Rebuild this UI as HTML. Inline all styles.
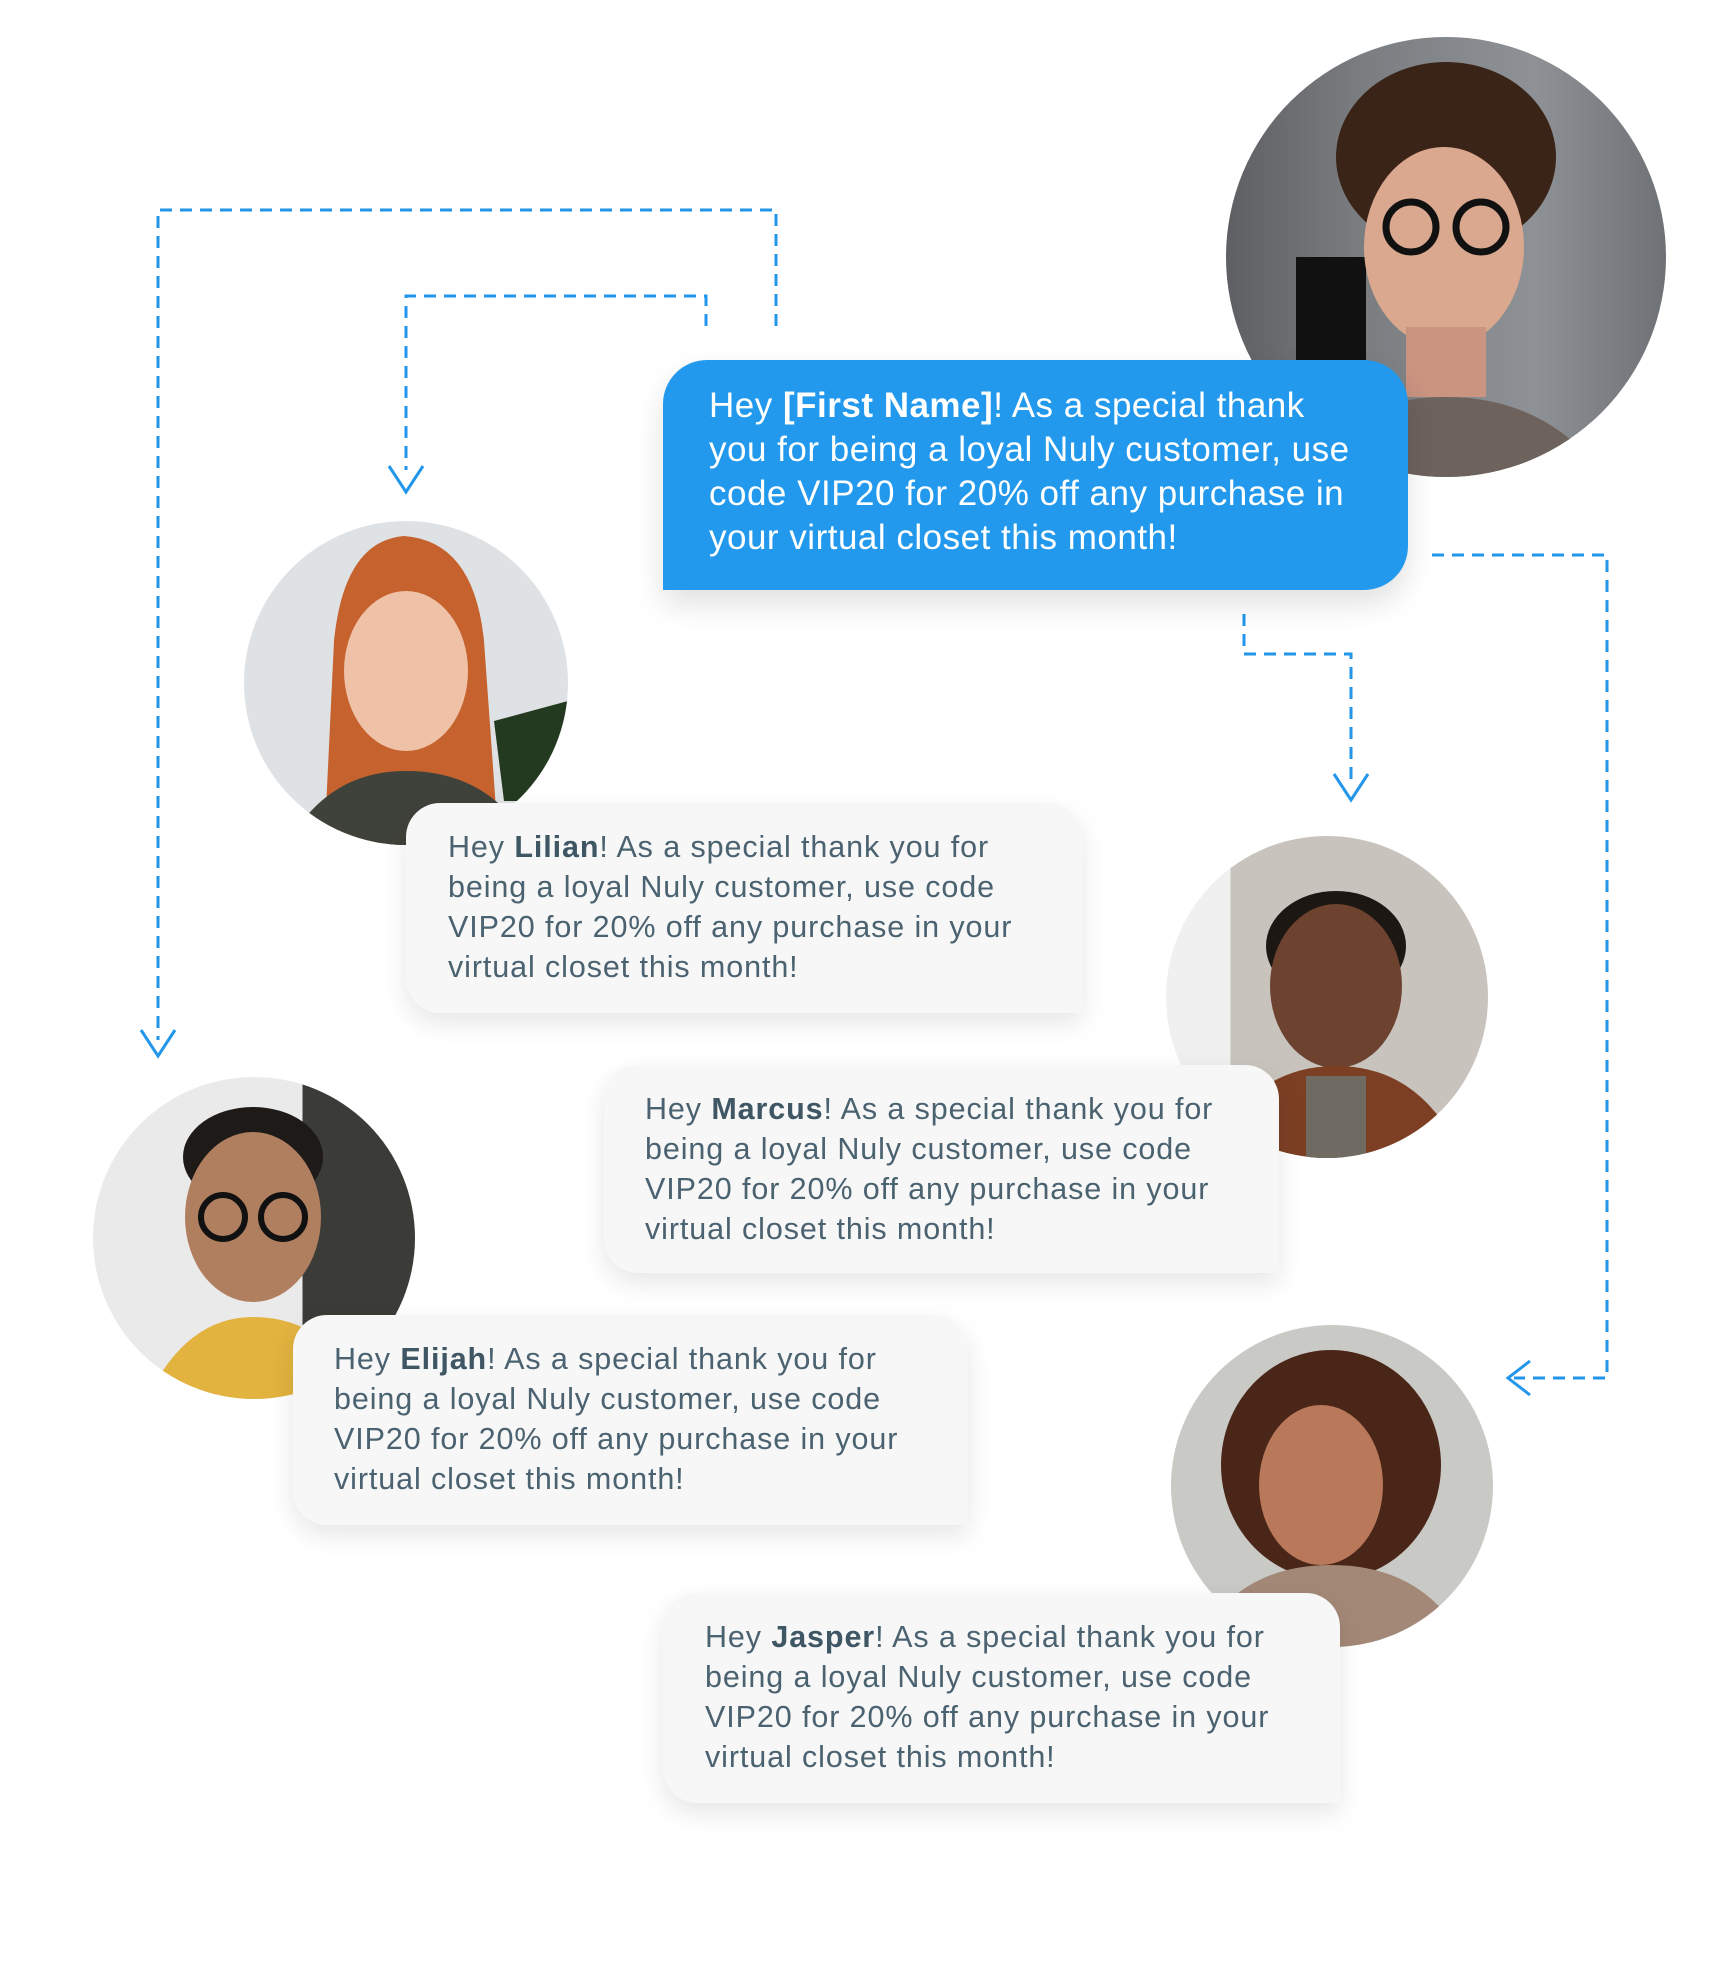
<!DOCTYPE html>
<html><head><meta charset="utf-8"><style>
html,body{margin:0;padding:0;background:#fff;}
body{width:1721px;height:1961px;position:relative;overflow:hidden;font-family:"Liberation Sans",sans-serif;}
#w{position:absolute;left:0;top:0;width:1721px;height:1961px;}
.b{position:absolute;box-sizing:border-box;background:#f7f7f7;border-radius:34px 34px 0 34px;box-shadow:0 10px 26px rgba(0,0,0,0.10);color:#4b6270;font-size:30.5px;letter-spacing:0.9px;line-height:40px;padding-top:24px;white-space:nowrap;}
.b b{color:#3f5664}
.blue{position:absolute;left:663px;top:360px;width:745px;height:230px;background:#2299ec;border-radius:44px 44px 44px 0;color:#fff;font-size:35px;letter-spacing:0.5px;line-height:44px;box-sizing:border-box;padding:24px 0 0 46px;box-shadow:0 14px 30px rgba(0,0,0,0.12);white-space:nowrap;}
.c{position:absolute;border-radius:50%;overflow:hidden;}
svg{position:absolute;left:0;top:0;}
</style></head><body><div id="w">
<svg width="1721" height="1961">
<g fill="none" stroke="#2296ea" stroke-width="3" stroke-dasharray="12 8">
<path d="M776 326 V210 H158 V1040"/>
<path d="M706 326 V296 H406 V470"/>
<path d="M1244 614 V654 H1351 V780"/>
<path d="M1432 555 H1607 V1378 H1514"/>
</g>
<g fill="none" stroke="#2296ea" stroke-width="3">
<path d="M141 1030 L158 1056 L175 1030"/>
<path d="M389 466 L406 492 L423 466"/>
<path d="M1334 774 L1351 800 L1368 774"/>
<path d="M1530 1361 L1508 1378 L1530 1395"/>
</g>
</svg>

<div class="c" style="left:1226px;top:37px;width:440px;height:440px;background:linear-gradient(90deg,#5d5f62 0%,#7a7d80 30%,#8e9296 70%,#6e7276 100%);">
<svg width="440" height="440"><rect x="70" y="220" width="70" height="200" fill="#111"/><ellipse cx="220" cy="120" rx="110" ry="95" fill="#3a2418"/><ellipse cx="218" cy="210" rx="80" ry="100" fill="#d9a88e"/><rect x="180" y="290" width="80" height="70" fill="#c99480"/><path d="M60 440 Q120 360 220 360 Q320 360 380 440Z" fill="#6e625d"/><circle cx="185" cy="190" r="25" fill="none" stroke="#111" stroke-width="7"/><circle cx="255" cy="190" r="25" fill="none" stroke="#111" stroke-width="7"/></svg></div>

<div class="blue">Hey <b>[First Name]</b>! As a special thank<br>you for being a loyal Nuly customer, use<br>code VIP20 for 20% off any purchase in<br>your virtual closet this month!</div>

<div class="c" style="left:244px;top:521px;width:324px;height:324px;background:#dfe2e4;">
<svg width="324" height="324"><path d="M80 330 L90 120 Q100 20 160 15 Q230 20 240 120 L255 330Z" fill="#c5622e"/><ellipse cx="162" cy="150" rx="62" ry="80" fill="#efc2a8"/><path d="M40 330 Q80 250 162 250 Q250 250 290 330Z" fill="#3f423a"/><path d="M250 200 L324 180 L324 280 L260 280Z" fill="#233a20"/></svg></div>
<div class="b" style="left:406px;top:803px;width:676px;height:210px;padding-left:42px;">Hey <b>Lilian</b>! As a special thank you for<br>being a loyal Nuly customer, use code<br>VIP20 for 20% off any purchase in your<br>virtual closet this month!</div>

<div class="c" style="left:1166px;top:836px;width:322px;height:322px;background:linear-gradient(90deg,#f0f0f0 0 20%,#c9c3bd 20% 100%);">
<svg width="322" height="322"><ellipse cx="170" cy="110" rx="70" ry="55" fill="#1d1714"/><ellipse cx="170" cy="150" rx="66" ry="82" fill="#6d4330"/><path d="M40 330 Q80 230 170 230 Q260 230 300 330Z" fill="#7c3f24"/><rect x="140" y="240" width="60" height="90" fill="#6f6b62"/></svg></div>
<div class="b" style="left:604px;top:1065px;width:675px;height:208px;padding-left:41px;">Hey <b>Marcus</b>! As a special thank you for<br>being a loyal Nuly customer, use code<br>VIP20 for 20% off any purchase in your<br>virtual closet this month!</div>

<div class="c" style="left:93px;top:1077px;width:322px;height:322px;background:linear-gradient(90deg,#eaeaea 0 65%,#3b3b38 65% 100%);">
<svg width="322" height="322"><ellipse cx="160" cy="80" rx="70" ry="50" fill="#1e1a18"/><ellipse cx="160" cy="140" rx="68" ry="85" fill="#b07f60"/><circle cx="130" cy="140" r="22" fill="none" stroke="#111" stroke-width="6"/><circle cx="190" cy="140" r="22" fill="none" stroke="#111" stroke-width="6"/><path d="M50 330 Q90 240 160 240 Q240 240 280 330Z" fill="#e2b33e"/></svg></div>
<div class="b" style="left:293px;top:1315px;width:675px;height:210px;padding-left:41px;">Hey <b>Elijah</b>! As a special thank you for<br>being a loyal Nuly customer, use code<br>VIP20 for 20% off any purchase in your<br>virtual closet this month!</div>

<div class="c" style="left:1171px;top:1325px;width:322px;height:322px;background:#c9c9c5;">
<svg width="322" height="322"><ellipse cx="160" cy="140" rx="110" ry="115" fill="#4a2618"/><ellipse cx="150" cy="160" rx="62" ry="80" fill="#b9785a"/><path d="M20 330 Q60 240 160 240 Q260 240 300 330Z" fill="#a48877"/></svg></div>
<div class="b" style="left:663px;top:1593px;width:677px;height:210px;padding-left:42px;">Hey <b>Jasper</b>! As a special thank you for<br>being a loyal Nuly customer, use code<br>VIP20 for 20% off any purchase in your<br>virtual closet this month!</div>
</div></body></html>
